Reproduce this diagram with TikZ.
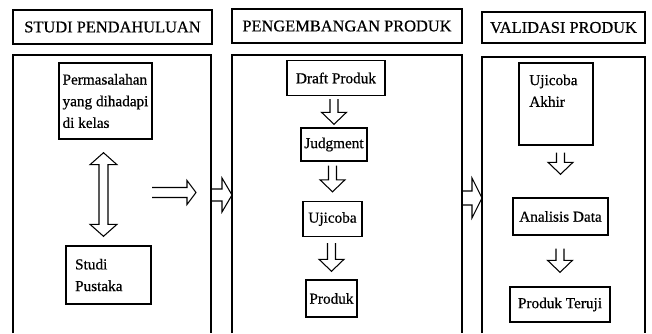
\documentclass[tikz,border=0pt]{standalone}
\usepackage{fontspec}
\setmainfont{Liberation Serif}[FakeBold=0.6]
\usetikzlibrary{calc}

\newcommand{\panahturun}[4]{%
	\coordinate (pangkal) at ($(#1.south -| #2.north)+(0,#3)$);
	\coordinate (ujung) at ($(#2.north)+(0,-#4)$);
	\draw[panah] ($(pangkal)+(-4,0)$) -- ($(ujung)+(-4,-12)$) -- ($(ujung)+(-12.5,-12)$) -- (ujung)
		-- ($(ujung)+(12.5,-12)$) -- ($(ujung)+(4,-12)$) -- ($(pangkal)+(4,0)$);}
\newcommand{\panahkanan}[5]{%
	\draw[panah] ($(#1)+(0,-#3)$) -- ($(#2)+(-#5,-#3)$) -- ($(#2)+(-#5,-#4)$) -- (#2)
		-- ($(#2)+(-#5,#4)$) -- ($(#2)+(-#5,#3)$) -- ($(#1)+(0,#3)$);}

\begin{document}
\begin{tikzpicture}[x = 0.03cm, y = -0.03cm,
		font = \fontsize{13}{18.5}\selectfont,
		judul/.style = {draw, line width = 1pt, inner sep = 0pt, minimum height = 1.02cm, font = \fontsize{14}{16}\selectfont},
		kotak/.style = {draw, line width = 1.2pt, inner sep = 2pt, minimum height = 1.05cm},
		panel/.style = {line width = 0.9pt},
		panah/.style = {line width = 0.9pt, line join = miter}]
	\useasboundingbox (0,0) rectangle (652,333);
	\node [judul, minimum width = 5.97cm] (judul1) at (112.5,27) {STUDI PENDAHULUAN};
	\node [judul, minimum width = 6.9cm] (judul2) at (347,26) {PENGEMBANGAN PRODUK};
	\node [judul, minimum width = 4.89cm, minimum height = 0.93cm] (judul3) at (563.5,27.5) {VALIDASI PRODUK};
	\draw [panel] (13,333) -- (13,55) -- (211,55) -- (211,333);
	\draw [panel] (232,333) -- (232,55) -- (462,55) -- (462,333);
	\draw [panel] (482,333) -- (482,57) -- (645,57) -- (645,333);

	\node [kotak, align = left, minimum width = 2.79cm, minimum height = 2.28cm] (masalah) at (105.5,101) {Permasalahan\\yang dihadapi\\di kelas};
	\node [kotak, text width = 2.0cm, align = left, minimum width = 2.55cm, minimum height = 1.74cm] (pustaka) at (108.5,275) {Studi\\Pustaka};
	\coordinate (ua) at ($(masalah.south)+(-2,13)$);
	\coordinate (ub) at ($(pustaka.north)+(-5,-9)$);
	\draw [panah] ($(ua)+(-4.5,12)$) -- ($(ua)+(-13.5,12)$) -- (ua) -- ($(ua)+(13.5,12)$) -- ($(ua)+(4.5,12)$)
		-- ($(ub)+(4.5,-12)$) -- ($(ub)+(13.5,-12)$) -- (ub) -- ($(ub)+(-13.5,-12)$) -- ($(ub)+(-4.5,-12)$) -- cycle;
	\coordinate (ka1) at (152,192.5);
	\coordinate (ka2) at (196,192.5);
	\panahkanan{ka1}{ka2}{5}{12}{9}
	\coordinate (kb1) at (211,195);
	\coordinate (kb2) at (232,195);
	\panahkanan{kb1}{kb2}{6}{17}{10}
	\coordinate (kc1) at (462,198);
	\coordinate (kc2) at (482,198);
	\panahkanan{kc1}{kc2}{7}{20}{10}

	\node [kotak, minimum width = 2.94cm] (draft) at (336,78) {Draft Produk};
	\node [kotak, minimum width = 1.98cm, minimum height = 0.99cm] (judg) at (334,144.5) {Judgment};
	\node [kotak, minimum width = 1.77cm] (ujicoba) at (332.5,219) {Ujicoba};
	\node [kotak, minimum width = 1.53cm, minimum height = 1.11cm] (produk) at (331.5,298.5) {Produk};
	\panahturun{draft}{judg}{3}{3}
	\panahturun{judg}{ujicoba}{4}{9}
	\panahturun{ujicoba}{produk}{6}{8}

	\node [kotak, text width = 1.6cm, align = left, text depth = 1.45cm, minimum width = 2.22cm, minimum height = 2.46cm] (akhir) at (556,104) {Ujicoba\\Akhir};
	\node [kotak, minimum width = 2.85cm, minimum height = 1.11cm] (analisis) at (560.5,216.5) {Analisis Data};
	\node [kotak, minimum width = 3.0cm] (teruji) at (560,304.5) {Produk Teruji};
	\panahturun{akhir}{analisis}{7}{23}
	\panahturun{analisis}{teruji}{13}{14}
\end{tikzpicture}
\end{document}
